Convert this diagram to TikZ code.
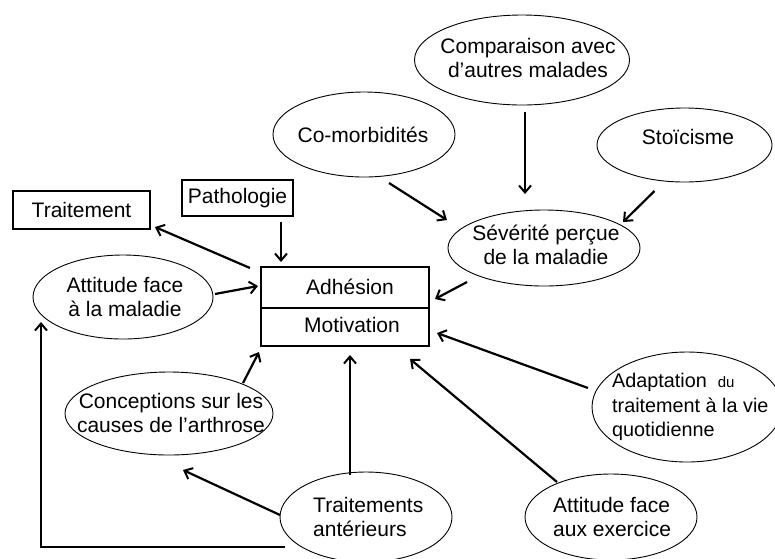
\documentclass[tikz,border=0pt]{standalone}
\usepackage{fontspec}
\setmainfont{Liberation Sans}
\usetikzlibrary{shapes.geometric,arrows.meta,calc}
\begin{document}
\begin{tikzpicture}[x=1pt,y=-1pt,
  ell/.style={draw,ellipse,line width=0.9pt,inner sep=0pt},
  boxn/.style={draw,rectangle,line width=1.2pt,inner sep=0pt},
  lbl/.style={font=\fontsize{21}{24.5}\selectfont,align=center,inner sep=0pt},
  arr/.style={line width=2.2pt,-{Straight Barb[length=7pt,width=12pt,line width=2pt]}}]
\useasboundingbox (0,0) rectangle (775,558);

% rectangles
\node[boxn,minimum width=137pt,minimum height=38pt] (trait) at (81.5,210) {};
\node[boxn,minimum width=111pt,minimum height=36pt] (path) at (237.5,198) {};
\node[boxn,minimum width=168pt,minimum height=41pt] (adh) at (345,287.5) {};
\node[boxn,minimum width=168pt,minimum height=38pt] (mot) at (345,327) {};

% ellipses
\node[ell,minimum width=180pt,minimum height=84pt] (att) at (123,297) {};
\node[ell,minimum width=208pt,minimum height=83pt] (conc) at (169,413.5) {};
\node[ell,minimum width=182pt,minimum height=85pt] (como) at (364,134.5) {};
\node[ell,minimum width=215pt,minimum height=90pt] (comp) at (522,60) {};
\node[ell,minimum width=175pt,minimum height=74pt] (stoi) at (684.5,145) {};
\node[ell,minimum width=192pt,minimum height=76pt] (sev) at (544,248) {};
\node[ell,minimum width=190pt,minimum height=110pt] (adapt) at (687,407) {};
\node[ell,minimum width=172pt,minimum height=86pt] (exer) at (611,517) {};
\node[ell,minimum width=172pt,minimum height=90pt] (ta) at (366,517) {};

% texts
\node[lbl] (ttrait) at (trait) {Traitement};
\node[lbl] (tpath) at (path) {Pathologie};
\node[lbl] (tadh) at (350,286.5) {Adhésion};
\node[lbl] (tmot) at (352,325) {Motivation};
\node[lbl] (tatt) at (125,297) {Attitude face\\à la maladie};
\node[lbl] (tconc) at (171,413) {Conceptions sur les\\causes de l’arthrose};
\node[lbl] (tcomo) at (363,135) {Co-morbidités};
\node[lbl] (tcomp) at (528,58) {Comparaison avec\\d’autres malades};
\node[lbl] (tstoi) at (688,137) {Stoïcisme};
\node[lbl] (tsev) at (546,245) {Sévérité perçue\\de la maladie};
\node[lbl,align=left,anchor=west,font=\fontsize{19.8}{24.5}\selectfont] (tadapt) at (612,407) {Adaptation~~{\fontsize{15}{24}\selectfont du}\\traitement à la vie\\quotidienne};
\node[lbl,align=left,anchor=west] (tta) at (313,517) {Traitements\\antérieurs};
\node[lbl,align=left,anchor=west] (texer) at (553,517) {Attitude face\\aux exercice};

% connectors
\draw[arr] ($(adh.center)+(-95,-19.5)$) -- ($(trait.center)+(73.5,17)$);
\draw[arr] ($(path.center)+(43.5,24)$) -- ($(adh.center)+(-64,-25.5)$);
\draw[arr] ($(att.center)+(92,-3)$) -- ($(adh.center)+(-87,-1.5)$);
\draw[arr] ($(conc.center)+(74,-30.5)$) -- ($(mot.center)+(-86,25)$);
\draw[arr] ($(ta.center)+(-16,-42)$) -- ($(mot.center)+(5,28)$);
\draw[arr] ($(ta.center)+(-86,-2)$) -- ($(conc.center)+(14,56.5)$);
\draw[arr] ($(ta.center)+(-81,30)$) -| ($(att.center)+(-82,25)$);
\draw[arr] ($(exer.center)+(-54,-35)$) -- ($(mot.center)+(65,32)$);
\draw[arr] ($(adapt.center)+(-99,-19)$) -- ($(mot.center)+(92,6)$);
\draw[arr] ($(sev.center)+(-77,34)$) -- ($(adh.center)+(90,11.5)$);
\draw[arr] ($(como.center)+(25,48.5)$) -- ($(sev.center)+(-97,-28)$);
\draw[arr] ($(comp.center)+(3,52)$) -- ($(sev.center)+(-19,-54)$);
\draw[arr] ($(stoi.center)+(-30,46)$) -- ($(sev.center)+(79,-26)$);
\end{tikzpicture}
\end{document}
